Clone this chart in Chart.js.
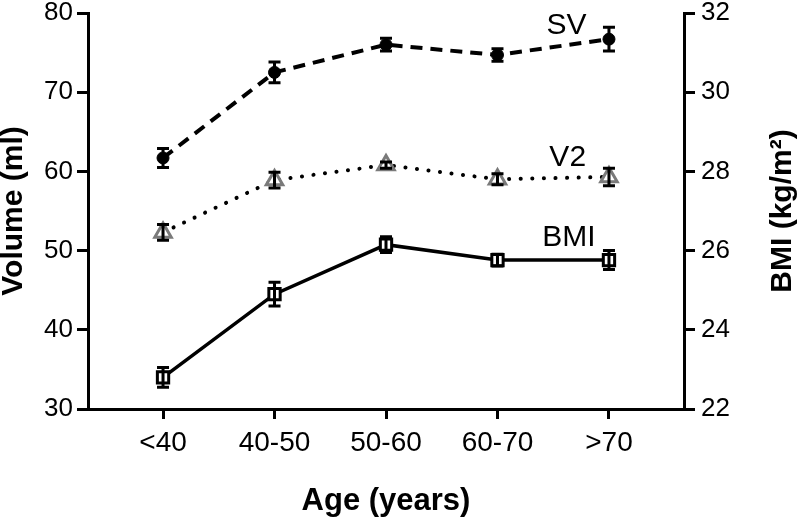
<!DOCTYPE html>
<html>
<head>
<meta charset="utf-8">
<script src="https://cdn.jsdelivr.net/npm/chart.js@4"></script>
<style>
  html, body { margin: 0; padding: 0; background: #fff; }
</style>
</head>
<body>
<canvas id="ageChart" width="800" height="517"></canvas>
<script>
// --- data ---
const ageGroups = ['<40', '40-50', '50-60', '60-70', '>70'];

const svValues = [61.7, 72.5, 76.0, 74.7, 76.7];
const svErr    = [1.2, 1.3, 0.8, 0.8, 1.5];

const v2Values = [52.3, 58.9, 60.8, 59.0, 59.3];
const v2Err    = [1.0, 1.0, 0.4, 0.7, 1.1];

const bmiValues = [22.8, 24.9, 26.15, 25.76, 25.76];
const bmiErr    = [0.25, 0.3, 0.2, 0.15, 0.24];

const volumeTicks = [30, 40, 50, 60, 70, 80];
const bmiTicks = [22, 24, 26, 28, 30, 32];

// series names written next to the lines (x in category units, y in axis units)
const seriesLabels = [
    { text: 'SV',  x: 3.62, y: 78.4, axis: 'y' },
    { text: 'V2',  x: 3.63, y: 61.7, axis: 'y' },
    { text: 'BMI', x: 3.64, y: 26.32, axis: 'y2' }
];

const FONT = "'Liberation Sans', Arial, Helvetica, sans-serif";
Chart.defaults.font.family = FONT;
Chart.defaults.color = '#000';

const toPoints = vals => vals.map((v, i) => ({ x: i, y: v }));

// error bars drawn through the chart's own scales
const errorBars = {
    id: 'errorBars',
    afterDatasetsDraw(chart) {
        const ctx = chart.ctx;
        const xScale = chart.scales.x;
        ctx.save();
        ctx.strokeStyle = '#000';
        ctx.lineWidth = 3;
        chart.data.datasets.forEach(ds => {
            const yScale = chart.scales[ds.yAxisID];
            ds.data.forEach((p, i) => {
                const e = ds.errors[i];
                const px = xScale.getPixelForValue(p.x);
                const top = yScale.getPixelForValue(p.y + e);
                const bot = yScale.getPixelForValue(p.y - e);
                ctx.beginPath();
                ctx.moveTo(px, top); ctx.lineTo(px, bot);
                ctx.moveTo(px - 6, top); ctx.lineTo(px + 6, top);
                ctx.moveTo(px - 6, bot); ctx.lineTo(px + 6, bot);
                ctx.stroke();
            });
        });
        ctx.restore();
    }
};

// line names + right axis title (reads bottom-to-top like the left one)
const textExtras = {
    id: 'textExtras',
    afterDraw(chart) {
        const ctx = chart.ctx;
        ctx.save();
        ctx.font = '30px ' + FONT;
        ctx.fillStyle = '#000';
        ctx.textAlign = 'center';
        ctx.textBaseline = 'middle';
        seriesLabels.forEach(l => {
            ctx.fillText(l.text, chart.scales.x.getPixelForValue(l.x), chart.scales[l.axis].getPixelForValue(l.y));
        });
        const area = chart.chartArea;
        ctx.translate(783, (area.top + area.bottom) / 2);
        ctx.rotate(-Math.PI / 2);
        ctx.font = 'bold 30px ' + FONT;
        ctx.fillText('BMI (kg/m²)', 0, 0);
        ctx.restore();
    }
};

const fitY = width => scale => {
    scale.width = width;
    scale.paddingTop = 0;
    scale.paddingBottom = 0;
};

const ctx = document.getElementById('ageChart').getContext('2d');
const ageChart = new Chart(ctx, {
    type: 'line',
    data: {
        datasets: [{
            label: 'SV',
            data: toPoints(svValues),
            errors: svErr,
            yAxisID: 'y',
            borderColor: '#000',
            borderWidth: 4,
            borderDash: [12, 8],
            pointStyle: 'circle',
            pointRadius: 6,
            pointBackgroundColor: '#000',
            pointBorderColor: '#000',
            pointBorderWidth: 1
        }, {
            label: 'V2',
            data: toPoints(v2Values),
            errors: v2Err,
            yAxisID: 'y',
            borderColor: '#000',
            borderWidth: 4,
            borderDash: [0.1, 11.5],
            borderCapStyle: 'round',
            pointStyle: 'triangle',
            pointRadius: 9.5,
            pointBackgroundColor: '#fff',
            pointBorderColor: '#7a7a7a',
            pointBorderWidth: 3
        }, {
            label: 'BMI',
            data: toPoints(bmiValues),
            errors: bmiErr,
            yAxisID: 'y2',
            borderColor: '#000',
            borderWidth: 3.5,
            pointStyle: 'rect',
            pointRadius: 8,
            pointBackgroundColor: '#fff',
            pointBorderColor: '#000',
            pointBorderWidth: 3
        }]
    },
    options: {
        responsive: false,
        animation: false,
        layout: { padding: { top: 13, left: 0, right: 0, bottom: 0 } },
        plugins: {
            legend: { display: false },
            tooltip: { enabled: false }
        },
        scales: {
            x: {
                type: 'linear',
                min: -0.673,
                max: 4.673,
                afterBuildTicks: scale => {
                    scale.ticks = ageGroups.map((_, i) => ({ value: i }));
                },
                afterFit: scale => { scale.height = 108; },
                ticks: {
                    callback: value => ageGroups[value],
                    font: { size: 28 },
                    padding: 7,
                    autoSkip: false,
                    maxRotation: 0
                },
                grid: { drawOnChartArea: false, drawTicks: true, tickLength: 10, lineWidth: 3, color: '#000' },
                border: { display: true, width: 3, color: '#000' },
                title: {
                    display: true,
                    text: 'Age (years)',
                    font: { size: 31, weight: 'bold', lineHeight: 1.0 },
                    padding: 0
                }
            },
            y: {
                position: 'left',
                min: 30,
                max: 80,
                afterBuildTicks: scale => {
                    scale.ticks = volumeTicks.map(v => ({ value: v }));
                },
                afterFit: fitY(88),
                ticks: { font: { size: 26 }, padding: 4 },
                grid: { drawOnChartArea: false, drawTicks: true, tickLength: 11, lineWidth: 3, color: '#000' },
                border: { display: true, width: 3, color: '#000' },
                title: {
                    display: true,
                    text: 'Volume (ml)',
                    font: { size: 30, weight: 'bold', lineHeight: 0.9 },
                    padding: 0
                }
            },
            y2: {
                position: 'right',
                min: 22,
                max: 32,
                afterBuildTicks: scale => {
                    scale.ticks = bmiTicks.map(v => ({ value: v }));
                },
                afterFit: fitY(116),
                ticks: { font: { size: 26 }, padding: 6 },
                grid: { drawOnChartArea: false, drawTicks: true, tickLength: 11, lineWidth: 3, color: '#000' },
                border: { display: true, width: 3, color: '#000' }
            }
        }
    },
    plugins: [errorBars, textExtras]
});
</script>
</body>
</html>
